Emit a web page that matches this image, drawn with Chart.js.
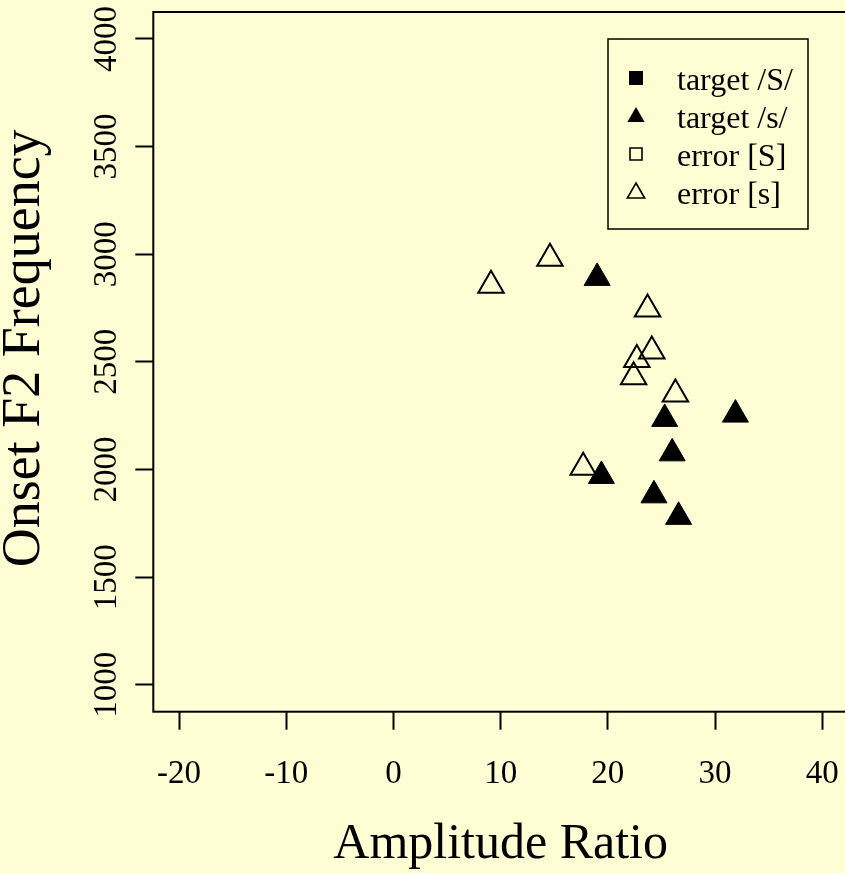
<!DOCTYPE html>
<html>
<head>
<meta charset="utf-8">
<script src="https://cdn.jsdelivr.net/npm/chart.js@4.4.0/dist/chart.umd.min.js"></script>
<style>
  html, body { margin: 0; padding: 0; background: #fffdd3; overflow: hidden; }
  #wrap { width: 860px; height: 873px; }
</style>
</head>
<body>
<div id="wrap"><canvas id="plot" width="860" height="873"></canvas></div>
<script>
// series names (legend order)
const seriesNames = ['target /S/', 'target /s/', 'error [S]', 'error [s]'];

// target /S/ and error [S] have no points on this plot
const targetShX = [];
const targetShY = [];
const errorShX = [];
const errorShY = [];

// target /s/ (filled triangles)
const targetSX = [19.0, 25.3, 31.9, 26.0, 19.4, 24.3, 26.6];
const targetSY = [2890, 2235, 2255, 2075, 1970, 1880, 1780];

// error [s] (open triangles)
const errorSX = [9.1, 14.6, 23.7, 24.1, 22.7, 22.4, 26.3, 17.7];
const errorSY = [2855, 2980, 2745, 2550, 2510, 2430, 2350, 2010];

const xTicks = [-20, -10, 0, 10, 20, 30, 40];
const yTicks = [1000, 1500, 2000, 2500, 3000, 3500, 4000];
const xLimits = [-22.4, 42.4];
const yLimits = [875, 4125];

const FONT = "'Liberation Serif', 'Times New Roman', serif";

const toPoints = (xs, ys) => xs.map((x, i) => ({x: x, y: ys[i]}));

// full box around the plot region, like R's box()
const boxPlugin = {
    id: 'box',
    afterDatasetsDraw: (chart) => {
        const a = chart.chartArea;
        const ctx = chart.ctx;
        ctx.save();
        ctx.strokeStyle = '#000';
        ctx.lineWidth = 2;
        ctx.strokeRect(a.left, a.top, a.right - a.left, a.bottom - a.top);
        ctx.restore();
    }
};

const drawSymbol = (ctx, style, filled, x, y, size) => {
    ctx.beginPath();
    if (style === 'rect') {
        ctx.rect(x - size / 2, y - size / 2, size, size);
    } else {
        ctx.moveTo(x, y - size);
        ctx.lineTo(x + size * Math.sqrt(3) / 2, y + size / 2);
        ctx.lineTo(x - size * Math.sqrt(3) / 2, y + size / 2);
        ctx.closePath();
    }
    if (filled) {
        ctx.fill();
    } else {
        ctx.stroke();
    }
};

// legend box in the top right corner of the plot
const legendPlugin = {
    id: 'rlegend',
    afterDraw: (chart) => {
        const a = chart.chartArea;
        const ctx = chart.ctx;
        const bx = a.right - 240;
        const by = a.top + 27;
        ctx.save();
        ctx.fillStyle = '#fffdd3';
        ctx.fillRect(bx, by, 200, 190);
        ctx.strokeStyle = '#000';
        ctx.lineWidth = 1.5;
        ctx.strokeRect(bx, by, 200, 190);
        ctx.font = '32px ' + FONT;
        ctx.textBaseline = 'middle';
        chart.data.datasets.forEach((ds, i) => {
            const ty = by + 43 + i * 38;
            const filled = ds.backgroundColor !== 'rgba(0,0,0,0)';
            ctx.fillStyle = '#000';
            ctx.strokeStyle = '#000';
            ctx.lineWidth = 1.6;
            if (ds.pointStyle === 'rect') {
                drawSymbol(ctx, 'rect', filled, bx + 28, ty - 4, filled ? 14 : 12);
            } else {
                drawSymbol(ctx, 'triangle', filled, bx + 28, ty - 3, 10);
            }
            ctx.fillStyle = '#000';
            ctx.fillText(ds.label, bx + 69, ty);
        });
        ctx.restore();
    }
};

new Chart('plot', {
    type: 'scatter',
    data: {
        datasets: [
            {
                label: seriesNames[0],
                data: toPoints(targetShX, targetShY),
                pointStyle: 'rect',
                backgroundColor: '#000',
                borderColor: '#000',
                borderWidth: 1,
                pointRadius: 10
            },
            {
                label: seriesNames[1],
                data: toPoints(targetSX, targetSY),
                pointStyle: 'triangle',
                backgroundColor: '#000',
                borderColor: '#000',
                borderWidth: 1,
                pointRadius: 15
            },
            {
                label: seriesNames[2],
                data: toPoints(errorShX, errorShY),
                pointStyle: 'rect',
                backgroundColor: 'rgba(0,0,0,0)',
                borderColor: '#000',
                borderWidth: 2,
                pointRadius: 10
            },
            {
                label: seriesNames[3],
                data: toPoints(errorSX, errorSY),
                pointStyle: 'triangle',
                backgroundColor: 'rgba(0,0,0,0)',
                borderColor: '#000',
                borderWidth: 2,
                pointRadius: 14.7
            }
        ]
    },
    options: {
        responsive: false,
        animation: false,
        events: [],
        layout: {
            autoPadding: false,
            padding: {top: 12, right: 12, left: 0, bottom: 0}
        },
        plugins: {
            legend: {display: false},
            tooltip: {enabled: false}
        },
        scales: {
            x: {
                type: 'linear',
                min: xLimits[0],
                max: xLimits[1],
                afterBuildTicks: (scale) => { scale.ticks = xTicks.map(v => ({value: v})); },
                afterFit: (scale) => {
                    scale.height = 161.3;
                    scale.paddingLeft = 0;
                    scale.paddingRight = 0;
                },
                border: {display: false},
                grid: {
                    drawOnChartArea: false,
                    drawTicks: true,
                    tickLength: 18,
                    tickColor: '#000',
                    tickWidth: 2
                },
                ticks: {
                    color: '#000',
                    padding: 25,
                    autoSkip: false,
                    maxRotation: 0,
                    callback: (v) => String(v),
                    font: {family: FONT, size: 33}
                },
                title: {
                    display: true,
                    text: 'Amplitude Ratio',
                    color: '#000',
                    padding: 0,
                    font: {family: FONT, size: 50, lineHeight: 1.14}
                }
            },
            y: {
                type: 'linear',
                min: yLimits[0],
                max: yLimits[1],
                afterBuildTicks: (scale) => { scale.ticks = yTicks.map(v => ({value: v})); },
                afterFit: (scale) => {
                    scale.width = 153.3;
                    scale.paddingTop = 0;
                    scale.paddingBottom = 0;
                },
                border: {display: false},
                grid: {
                    drawOnChartArea: false,
                    drawTicks: true,
                    tickLength: 18,
                    tickColor: '#000',
                    tickWidth: 2
                },
                ticks: {
                    color: '#000',
                    padding: -5,
                    autoSkip: false,
                    minRotation: 90,
                    maxRotation: 90,
                    crossAlign: 'center',
                    callback: (v) => String(v),
                    font: {family: FONT, size: 33, lineHeight: 0.6}
                },
                title: {
                    display: true,
                    text: '  Onset F2 Frequency',
                    color: '#000',
                    padding: 0,
                    font: {family: FONT, size: 54, lineHeight: 0.92}
                }
            }
        }
    },
    plugins: [boxPlugin, legendPlugin]
});
</script>
</body>
</html>
